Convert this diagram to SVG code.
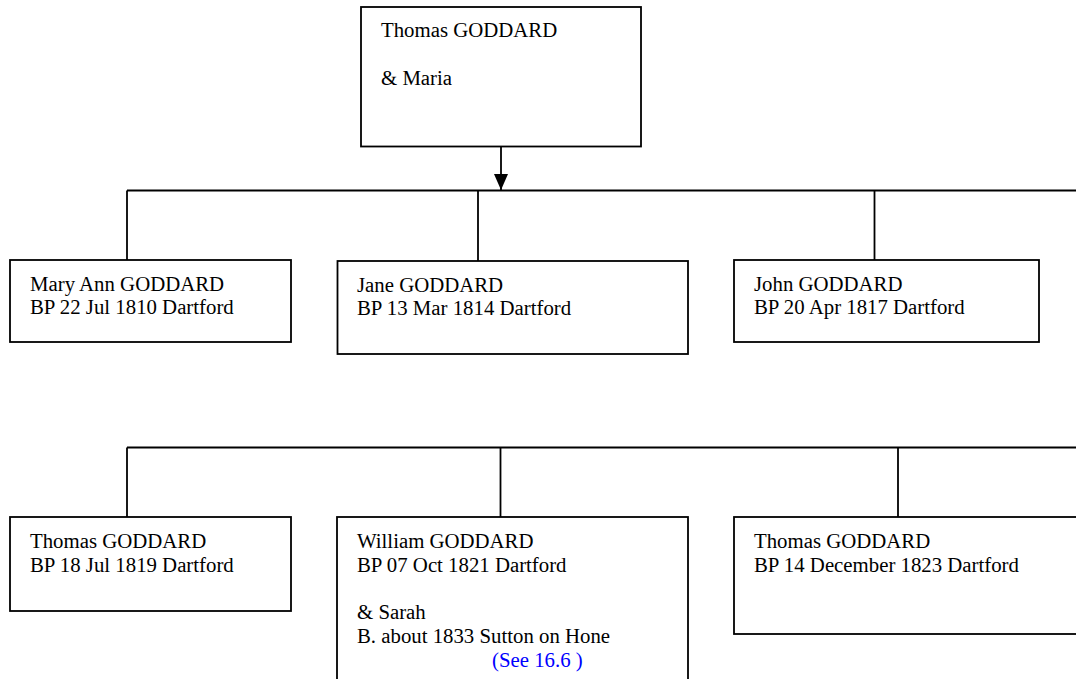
<svg xmlns="http://www.w3.org/2000/svg" width="1076" height="679" viewBox="0 0 1076 679">
<style>
.box{fill:#fff;stroke:#000;stroke-width:1.8}
.ln{fill:none;stroke:#000;stroke-width:1.8}
text{font-family:"Liberation Serif","Times New Roman",serif;font-size:20.8px;fill:#000}
.link{fill:#0000ff}
</style>
<defs>
<marker id="arr" markerUnits="userSpaceOnUse" markerWidth="16" markerHeight="18" refX="8" refY="16" orient="0" viewBox="0 0 16 18">
<path d="M1,0 L15,0 L8,16 Z" fill="#000"/>
</marker>
</defs>
<rect width="1076" height="679" fill="#fff"/>
<g id="connectors">
<line class="ln" x1="501" y1="147" x2="501" y2="190" marker-end="url(#arr)"/>
<line class="ln" x1="127" y1="190.5" x2="1076" y2="190.5"/>
<line class="ln" x1="127" y1="190.5" x2="127" y2="260"/>
<line class="ln" x1="478" y1="190.5" x2="478" y2="261"/>
<line class="ln" x1="874.5" y1="190.5" x2="874.5" y2="260"/>
<line class="ln" x1="127" y1="447.5" x2="1076" y2="447.5"/>
<line class="ln" x1="127" y1="447.5" x2="127" y2="517"/>
<line class="ln" x1="500.5" y1="447.5" x2="500.5" y2="517"/>
<line class="ln" x1="898" y1="447.5" x2="898" y2="517"/>
</g>
<g id="n-parents">
<rect class="box" x="361" y="7" width="280" height="139.5"/>
<text x="381" y="37">Thomas GODDARD</text>
<text x="381" y="85">&amp; Maria</text>
</g>
<g id="n-maryann">
<rect class="box" x="10" y="260" width="281" height="82"/>
<text x="30" y="291">Mary Ann GODDARD</text>
<text x="30" y="314">BP 22 Jul 1810 Dartford</text>
</g>
<g id="n-jane">
<rect class="box" x="337.5" y="261" width="350.5" height="93"/>
<text x="357" y="292">Jane GODDARD</text>
<text x="357" y="315">BP 13 Mar 1814 Dartford</text>
</g>
<g id="n-john">
<rect class="box" x="734" y="260" width="305" height="82"/>
<text x="754" y="291">John GODDARD</text>
<text x="754" y="314">BP 20 Apr 1817 Dartford</text>
</g>
<g id="n-thomas1">
<rect class="box" x="10" y="517" width="281" height="94"/>
<text x="30" y="548">Thomas GODDARD</text>
<text x="30" y="571.5">BP 18 Jul 1819 Dartford</text>
</g>
<g id="n-william">
<rect class="box" x="337" y="517" width="351" height="170"/>
<text x="357" y="548">William GODDARD</text>
<text x="357" y="571.5">BP 07 Oct 1821 Dartford</text>
<text x="357" y="619">&amp; Sarah</text>
<text x="357" y="643">B. about 1833 Sutton on Hone</text>
<text class="link" x="492" y="667">(See 16.6 )</text>
</g>
<g id="n-thomas2">
<rect class="box" x="734" y="517" width="360" height="117"/>
<text x="754" y="548">Thomas GODDARD</text>
<text x="754" y="571.5">BP 14 December 1823 Dartford</text>
</g>
</svg>
